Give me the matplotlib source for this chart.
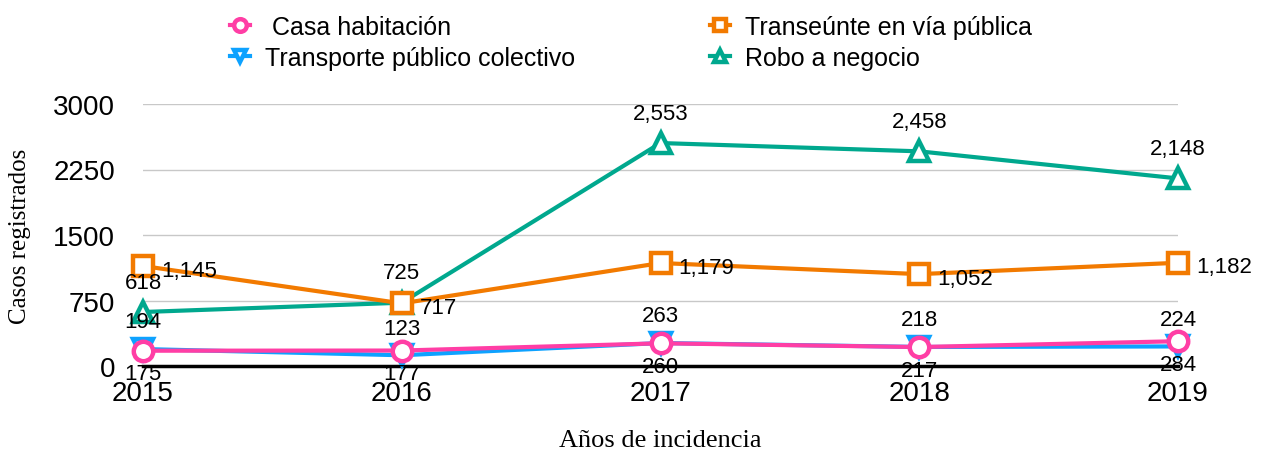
import matplotlib
matplotlib.use("Agg")
import matplotlib.pyplot as plt

# Data:
years = [2015, 2016, 2017, 2018, 2019]
casa = [175, 177, 260, 217, 284]
transporte = [194, 123, 263, 218, 224]
transeunte = [1145, 717, 1179, 1052, 1182]
negocio = [618, 725, 2553, 2458, 2148]
y_ticks = [0, 750, 1500, 2250, 3000]

c_casa = '#FF3EA5'
c_trans = '#0DA2FF'
c_transeunte = '#F27A00'
c_negocio = '#00A88E'

plt.rcParams['font.family'] = ['Liberation Sans', 'DejaVu Sans']

fig = plt.figure(figsize=(12.62, 4.56), dpi=100)
ax = fig.add_axes([143/1262, 1 - 367/456, (1178 - 143)/1262, (367 - 105)/456])

line_kw = dict(linewidth=3.0, markersize=14, markeredgewidth=3.2,
               markerfacecolor='white', clip_on=False)

l_neg, = ax.plot(years, negocio, color=c_negocio, marker='^', label='Robo a negocio',
                 zorder=3, **line_kw)
l_tra, = ax.plot(years, transporte, color=c_trans, marker='v', label='Transporte público colectivo',
                 zorder=4, **line_kw)
l_tse, = ax.plot(years, transeunte, color=c_transeunte, marker='s', label='Transeúnte en vía pública',
                 zorder=5, **line_kw)
l_casa, = ax.plot(years, casa, color=c_casa, marker='o', label=' Casa habitación',
                  zorder=6, **line_kw)

# Data labels:
lab_kw = dict(fontsize=16, textcoords='offset points', zorder=10)
for x, y in zip(years, negocio):
    ax.annotate(f'{y:,}', (x, y), xytext=(0, 14), ha='center', va='bottom', **lab_kw)
for x, y in zip(years, transporte):
    ax.annotate(f'{y:,}', (x, y), xytext=(0, 12), ha='center', va='bottom', **lab_kw)
for x, y in zip(years, casa):
    ax.annotate(f'{y:,}', (x, y), xytext=(0, -9), ha='center', va='top', **lab_kw)
for x, y in zip(years, transeunte):
    ax.annotate(f'{y:,}', (x, y), xytext=(13, -3), ha='left', va='center', **lab_kw)

ax.set_xlim(2015, 2019)
ax.set_ylim(0, 3000)
ax.set_xticks(years)
ax.set_yticks(y_ticks)
ax.tick_params(axis='both', length=0, labelsize=20)
ax.tick_params(axis='x', pad=10)
ax.tick_params(axis='y', pad=20)
ax.grid(axis='y', color='#c8c8c8', linewidth=1)
ax.set_axisbelow(True)
for s in ['top', 'right', 'left']:
    ax.spines[s].set_visible(False)
ax.spines['bottom'].set_linewidth(2.5)
ax.spines['bottom'].set_zorder(2.5)

ax.set_ylabel('Casos registrados', family='Liberation Serif', fontsize=18, labelpad=16)
ax.set_xlabel('Años de incidencia', family='Liberation Serif', fontsize=19, labelpad=17)

fig.legend(handles=[l_casa, l_tra, l_tse, l_neg], loc='upper center', bbox_to_anchor=(0.5, 1.015),
           ncol=2, frameon=False, fontsize=18, handlelength=0.8, handletextpad=0.6,
           columnspacing=5.4, labelspacing=0.3, markerscale=0.65)

fig.savefig('out.png', dpi=100)
